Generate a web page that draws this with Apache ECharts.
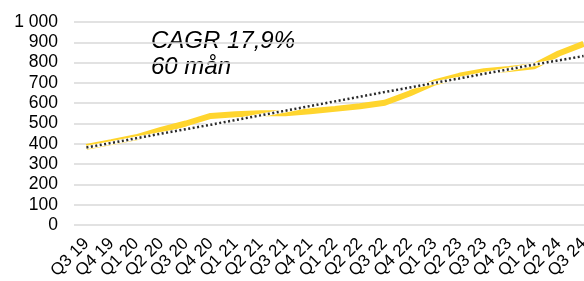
<!DOCTYPE html>
<html>
<head>
<meta charset="utf-8">
<script src="https://cdn.jsdelivr.net/npm/echarts@6/dist/echarts.min.js"></script>
<style>
  html, body { margin: 0; padding: 0; background: #fff; }
  #chart { width: 584px; height: 281px; }
</style>
</head>
<body>
<div id="chart"></div>
<script>
const categories = ['Q3 19', 'Q4 19', 'Q1 20', 'Q2 20', 'Q3 20', 'Q4 20', 'Q1 21', 'Q2 21', 'Q3 21', 'Q4 21',
  'Q1 22', 'Q2 22', 'Q3 22', 'Q4 22', 'Q1 23', 'Q2 23', 'Q3 23', 'Q4 23', 'Q1 24', 'Q2 24', 'Q3 24']
const actual = [385, 408, 432, 468, 500, 537, 545, 550, 550, 560, 572, 585, 602, 648, 702, 735, 758, 768, 782, 845, 892]
const trend = [382, 404, 427, 450, 472, 494, 517, 540, 563, 586, 609, 632, 655, 677, 700, 722, 745, 767, 790, 811, 832]
const yTicks = [0, 100, 200, 300, 400, 500, 600, 700, 800, 900, 1000]

const chart = echarts.init(document.getElementById('chart'))
const font = 'Liberation Sans, Arial, sans-serif'

chart.setOption({
  animation: false,
  grid: { left: 74, right: -12, top: 22, bottom: 56, outerBoundsMode: 'none', containLabel: false },
  graphic: [
    {
      type: 'text', left: 151, top: 28,
      style: { text: 'CAGR 17,9%\n60 mån', font: 'italic 24px ' + font, fill: '#000', lineHeight: 26 },
    },
  ],
  xAxis: {
    type: 'category',
    data: categories,
    boundaryGap: true,
    axisLine: { show: false },
    axisTick: { show: false },
    axisLabel: {
      interval: 0,
      rotate: 45,
      margin: 16,
      color: '#000',
      fontSize: 17,
      fontFamily: font,
    },
  },
  yAxis: {
    type: 'value',
    min: 0,
    max: 1000,
    interval: 100,
    axisLine: { show: false },
    axisTick: { show: false },
    axisLabel: {
      margin: 16,
      color: '#000',
      fontSize: 17.5,
      fontFamily: font,
      formatter: (v) => (yTicks.includes(v) ? String(v).replace(/\B(?=(\d{3})+(?!\d))/g, ' ') : ''),
    },
    splitLine: { lineStyle: { color: '#d9d9d9', width: 1.5 } },
  },
  series: [
    {
      type: 'line',
      data: actual,
      symbol: 'none',
      lineStyle: { color: '#FFD52E', width: 6 },
      z: 2,
    },
    {
      type: 'line',
      data: trend,
      symbol: 'none',
      lineStyle: { color: '#ffffff', width: 3.5 },
      z: 3,
    },
    {
      type: 'line',
      data: trend,
      symbol: 'none',
      lineStyle: { color: '#2b2b2b', width: 2.5, type: [2, 2.5] },
      z: 4,
    },
  ],
})
</script>
</body>
</html>
